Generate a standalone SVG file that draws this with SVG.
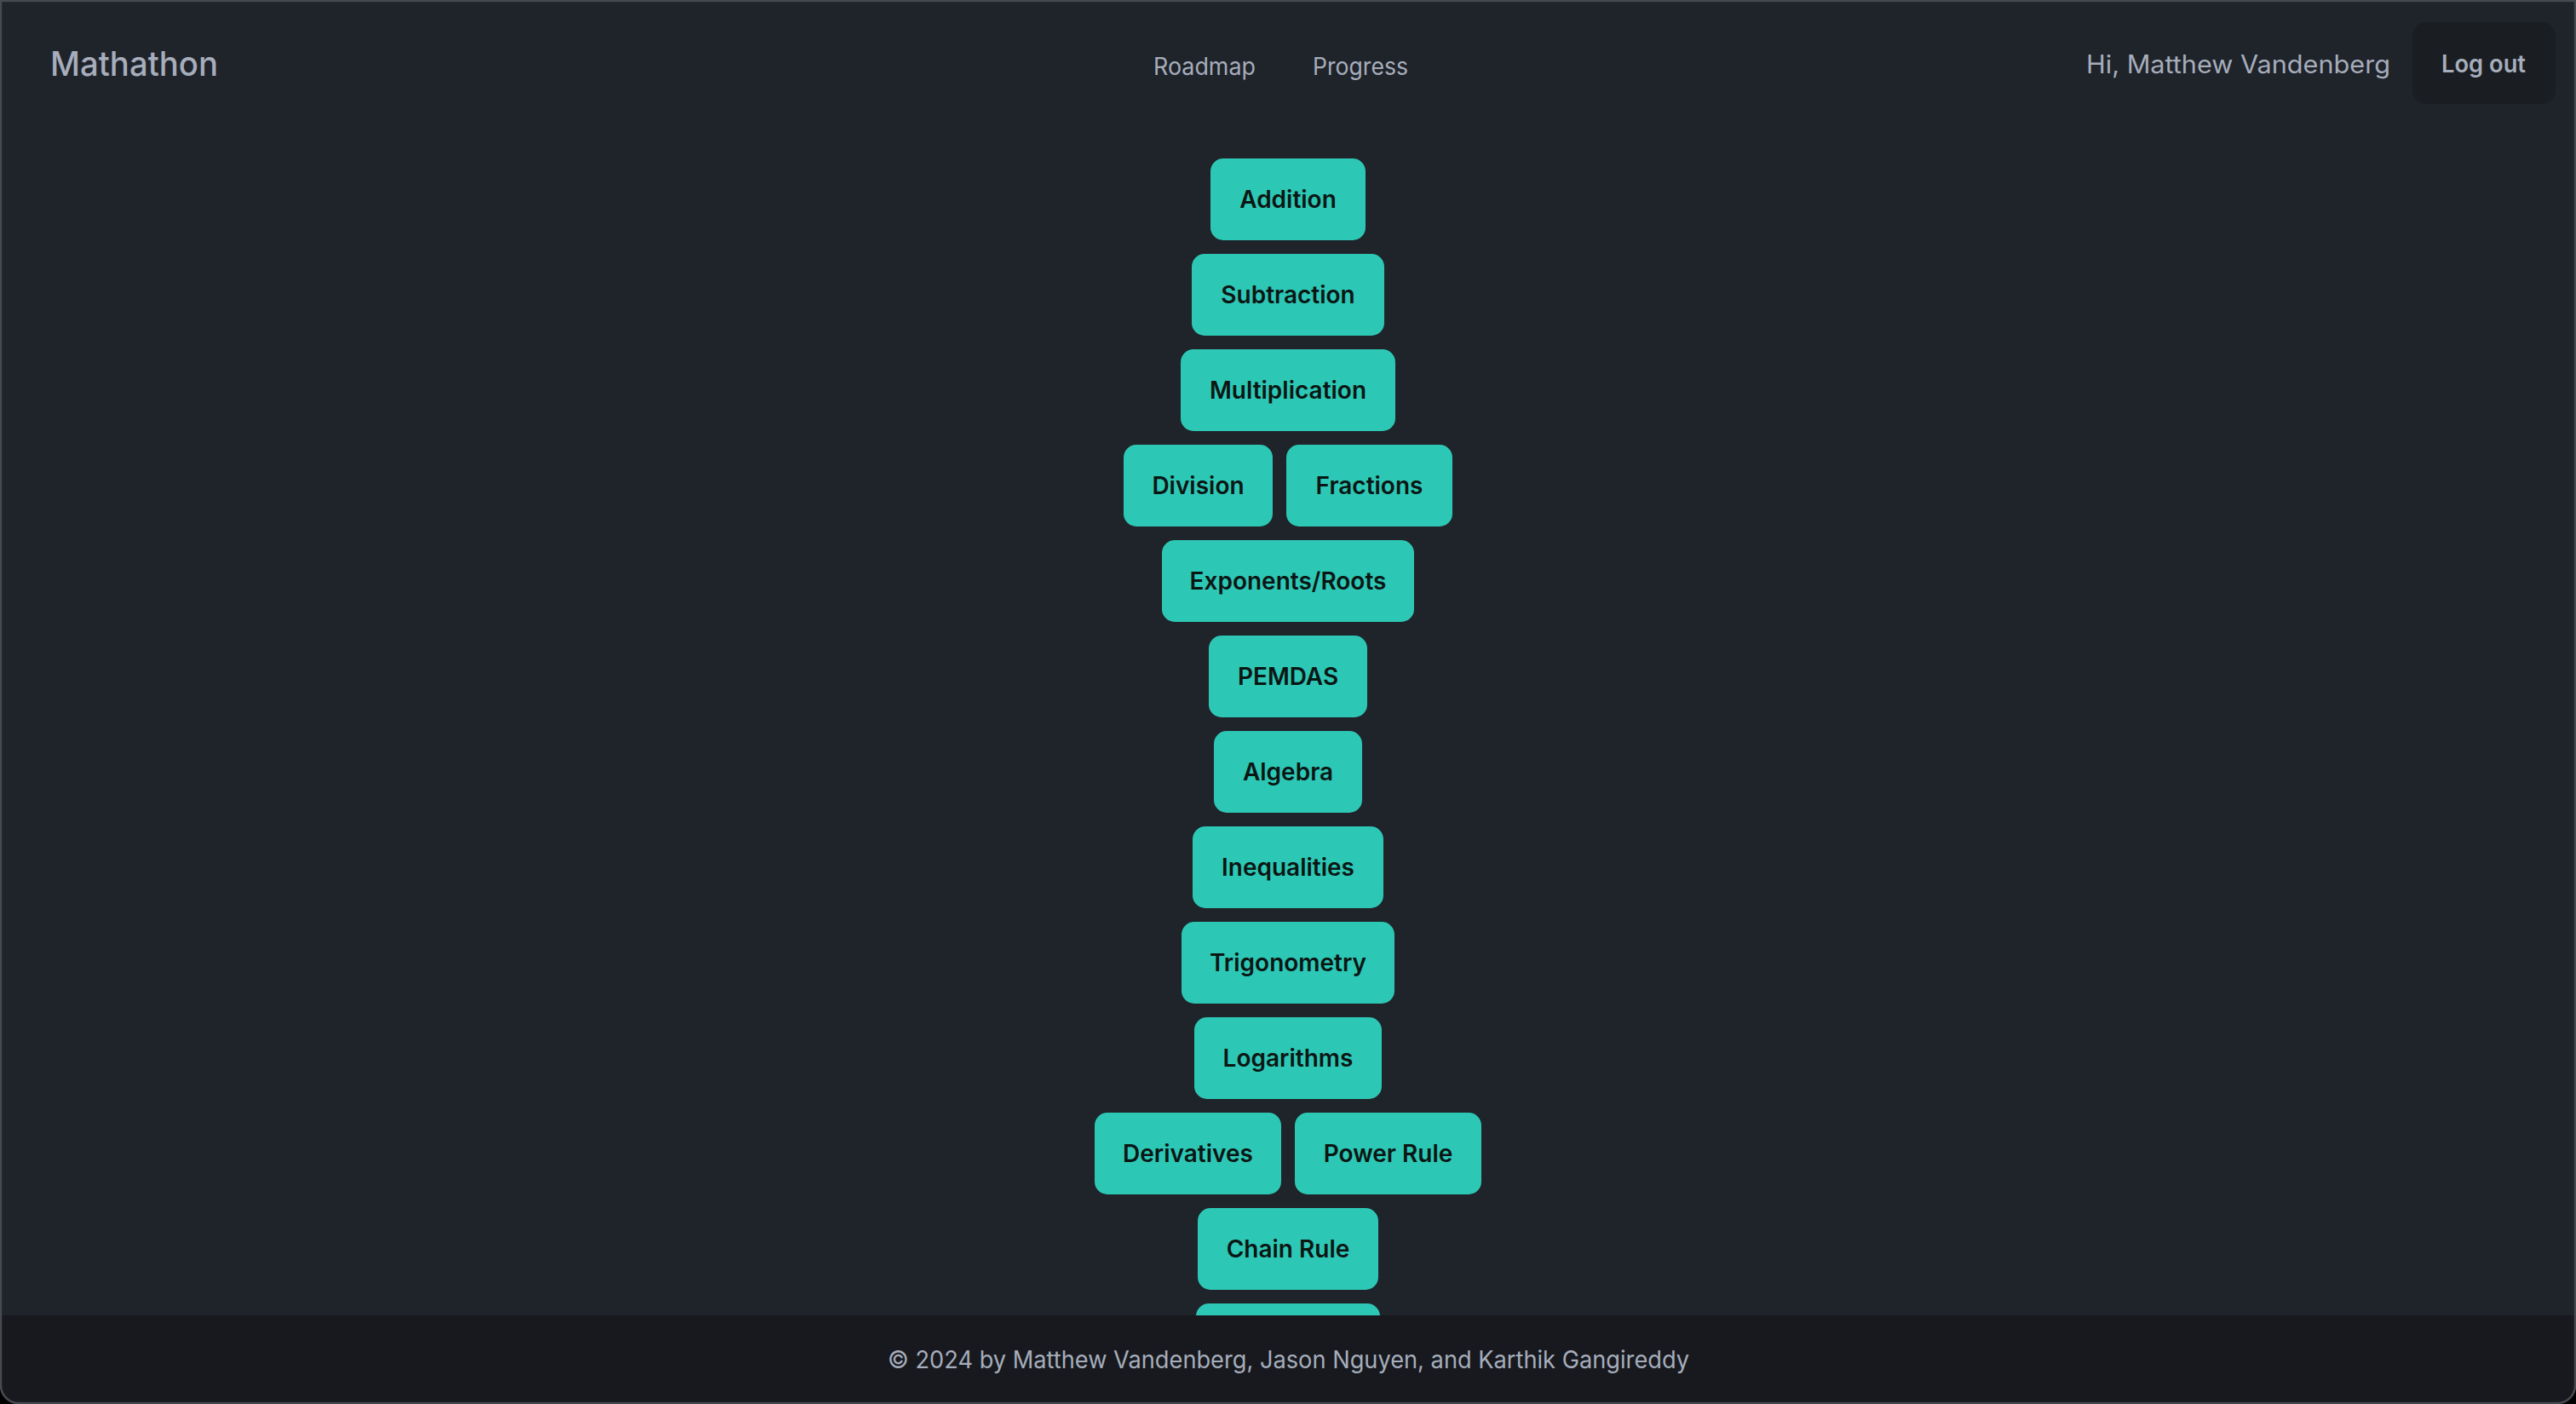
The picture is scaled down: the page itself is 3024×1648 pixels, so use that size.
<svg xmlns="http://www.w3.org/2000/svg" width="3024" height="1648" viewBox="0 0 3024 1648">
<style>
.node rect{fill:#2dc8b5}
.node text{font-family:Inter,"Liberation Sans",sans-serif;font-size:28px;font-weight:600;fill:#0b1614;text-anchor:middle}
.nav{font-family:Inter,"Liberation Sans",sans-serif;fill:#a6adbb}
</style>
<defs>
<clipPath id="win"><path d="M0,0 H3024 V1626 A22,22 0 0 1 3002,1648 H22 A22,22 0 0 1 0,1626 Z"/></clipPath>
</defs>
<rect width="3024" height="1648" fill="#000"/>
<g clip-path="url(#win)">
<rect width="3024" height="1648" fill="#1f232a"/>
<g id="nodes">
<g id="n-addition" class="node"><rect x="1421" y="186" width="182" height="96" rx="15"/><text x="1512" y="244">Addition</text></g>
<g id="n-subtraction" class="node"><rect x="1399" y="298" width="226" height="96" rx="15"/><text x="1512" y="356">Subtraction</text></g>
<g id="n-multiplication" class="node"><rect x="1386" y="410" width="252" height="96" rx="15"/><text x="1512" y="468">Multiplication</text></g>
<g id="n-division" class="node"><rect x="1319" y="522" width="175" height="96" rx="15"/><text x="1406.5" y="580">Division</text></g>
<g id="n-fractions" class="node"><rect x="1510" y="522" width="195" height="96" rx="15"/><text x="1607.5" y="580">Fractions</text></g>
<g id="n-exponents" class="node"><rect x="1364" y="634" width="296" height="96" rx="15"/><text x="1512" y="692">Exponents/Roots</text></g>
<g id="n-pemdas" class="node"><rect x="1419" y="746" width="186" height="96" rx="15"/><text x="1512" y="804">PEMDAS</text></g>
<g id="n-algebra" class="node"><rect x="1425" y="858" width="174" height="96" rx="15"/><text x="1512" y="916">Algebra</text></g>
<g id="n-inequalities" class="node"><rect x="1400" y="970" width="224" height="96" rx="15"/><text x="1512" y="1028">Inequalities</text></g>
<g id="n-trigonometry" class="node"><rect x="1387" y="1082" width="250" height="96" rx="15"/><text x="1512" y="1140">Trigonometry</text></g>
<g id="n-logarithms" class="node"><rect x="1402" y="1194" width="220" height="96" rx="15"/><text x="1512" y="1252">Logarithms</text></g>
<g id="n-derivatives" class="node"><rect x="1285" y="1306" width="219" height="96" rx="15"/><text x="1394.5" y="1364">Derivatives</text></g>
<g id="n-powerrule" class="node"><rect x="1520" y="1306" width="219" height="96" rx="15"/><text x="1629.5" y="1364">Power Rule</text></g>
<g id="n-chainrule" class="node"><rect x="1406" y="1418" width="212" height="96" rx="15"/><text x="1512" y="1476">Chain Rule</text></g>
<g id="n-next" class="node"><rect x="1404" y="1530" width="216" height="96" rx="15"/></g>
</g>
<g id="connectors"></g>
<g id="header">
<text class="nav" x="59" y="89" font-size="40" font-weight="500" textLength="197" lengthAdjust="spacingAndGlyphs">Mathathon</text>
<text class="nav" x="1354" y="88" font-size="28" textLength="120" lengthAdjust="spacingAndGlyphs">Roadmap</text>
<text class="nav" x="1541" y="88" font-size="28" textLength="112" lengthAdjust="spacingAndGlyphs">Progress</text>
<text class="nav" x="2449" y="86" font-size="29.5" textLength="357" lengthAdjust="spacingAndGlyphs">Hi, Matthew Vandenberg</text>
<rect x="2832" y="26" width="168" height="96" rx="16" fill="#1a1d21"/>
<text class="nav" x="2866" y="85" font-size="28" font-weight="600" textLength="99" lengthAdjust="spacingAndGlyphs">Log out</text>
</g>
<g id="footer">
<rect x="0" y="1544" width="3024" height="104" fill="#17191e"/>
<text class="nav" x="1042" y="1606" font-size="28" textLength="941" lengthAdjust="spacingAndGlyphs">© 2024 by Matthew Vandenberg, Jason Nguyen, and Karthik Gangireddy</text>
</g>
</g>
<path d="M1,1 H3023 V1626 A21,21 0 0 1 3002,1647 H22 A21,21 0 0 1 1,1626 Z" fill="none" stroke="#46494e" stroke-width="2.5"/>
</svg>
